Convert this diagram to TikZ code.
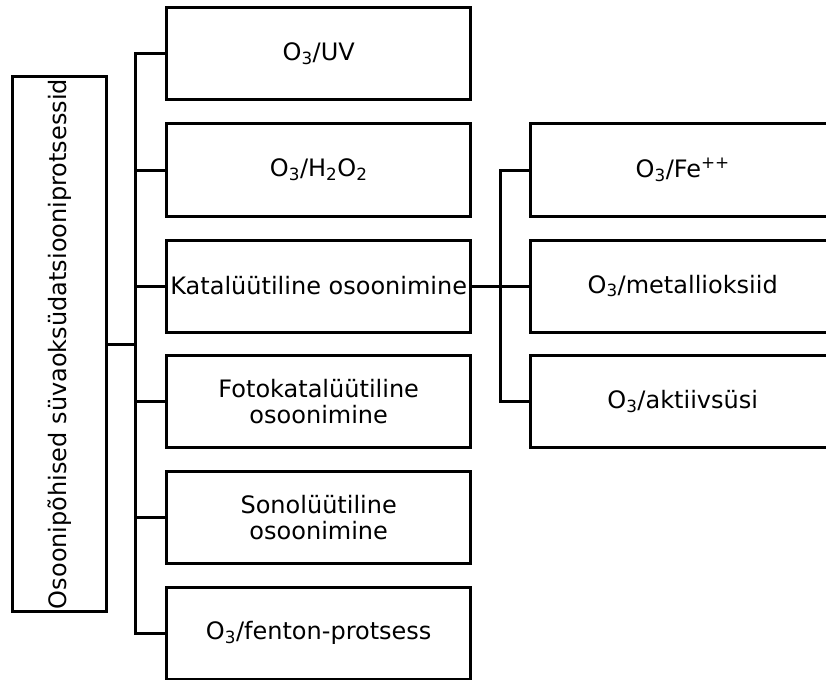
\documentclass[tikz,border=0pt]{standalone}
\usepackage{fontspec}
\setmainfont{DejaVu Sans}
\begin{document}
\begin{tikzpicture}[x=1pt,y=-1pt,
  every node/.style={inner sep=0pt,outer sep=0pt},
  procbox/.style={draw,line width=3pt,minimum width=304pt,minimum height=92pt,align=center,
    font=\fontsize{24}{26}\selectfont},
  conn/.style={line width=3pt}]
\clip (0,0) rectangle (826,679);
\node[draw,line width=3pt,minimum width=93.5pt,minimum height=534.5pt] (L) at (59.3,344)
  {\rotatebox{90}{\fontsize{24}{26}\selectfont Osoonipõhised süvaoksüdatsiooniprotsessid}};
\node[procbox] (b1) at (318.7,54) {O\textsubscript{3}/UV};
\node[procbox] (b2) at (318.7,170) {O\textsubscript{3}/H\textsubscript{2}O\textsubscript{2}};
\node[procbox] (b3) at (318.7,286) {Katalüütiline osoonimine};
\node[procbox] (b4) at (318.7,401.5) {Fotokatalüütiline\\osoonimine};
\node[procbox] (b5) at (318.7,517.5) {Sonolüütiline\\osoonimine};
\node[procbox] (b6) at (318.7,633) {O\textsubscript{3}/fenton-protsess};
\node[procbox] (r1) at (682.7,170) {O\textsubscript{3}/Fe\textsuperscript{++}};
\node[procbox] (r2) at (682.7,286) {O\textsubscript{3}/metallioksiid};
\node[procbox] (r3) at (682.7,401.5) {O\textsubscript{3}/aktiivsüsi};
\coordinate (T) at (135.7,0);
\draw[conn] (b1.west) -- (b1.west -| T) |- (b6.west);
\draw[conn] (b2.west) -- (b2.west -| T);
\draw[conn] (b3.west) -- (b3.west -| T);
\draw[conn] (b4.west) -- (b4.west -| T);
\draw[conn] (b5.west) -- (b5.west -| T);
\draw[conn] (L.east) -- (L.east -| T);
\coordinate (S) at (500.7,0);
\draw[conn] (b3.east) -- (r2.west);
\draw[conn] (r1.west) -- (r1.west -| S) |- (r3.west);
\end{tikzpicture}
\end{document}
